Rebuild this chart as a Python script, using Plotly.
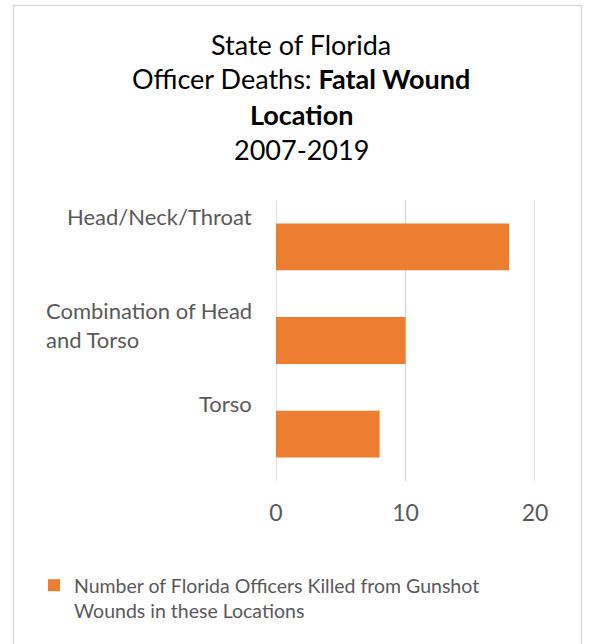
import plotly.graph_objects as go

categories = ["Head/Neck/Throat", "Combination of Head and Torso", "Torso"]
category_labels = ["Head/Neck/Throat", "Combination of Head<br>and Torso", "Torso"]
values = [18, 10, 8]
series_name = "Number of Florida Officers Killed from Gunshot<br>Wounds in these Locations"
x_ticks = [0, 10, 20]
title_lines = ["State of Florida", "Officer Deaths: <b>Fatal Wound</b>", "<b>Location</b>", "2007-2019"]

W, H = 592, 644
L, R, T, B = 276, 535, 200, 481  # plot area in px
FONT = "Lato"
GRAY = "#595959"
ORANGE = "#ED7D31"
GRID = "#d9d9d9"


def px_x(px):
    return (px - L) / (R - L)


def px_y(py):
    return (B - py) / (B - T)


fig = go.Figure()
fig.add_trace(go.Bar(
    y=categories, x=values, orientation="h",
    marker=dict(color=ORANGE, line=dict(width=0)),
    width=0.5, name=series_name, showlegend=True, hoverinfo="skip",
))

annotations = []
title_y = [44, 79, 114, 149]
for line, yy in zip(title_lines, title_y):
    annotations.append(dict(
        text=line, xref="paper", yref="paper", x=px_x(W / 2 + 5), y=px_y(yy),
        xanchor="center", yanchor="middle", showarrow=False,
        font=dict(family=FONT, size=27, color="#000000"),
    ))
for cat, lab in zip(categories, category_labels):
    annotations.append(dict(
        text=lab, xref="paper", yref="y", x=0, y=cat, xshift=-22, yshift=46,
        xanchor="right", yanchor="top", align="left", showarrow=False,
        font=dict(family=FONT, size=22, color=GRAY),
    ))

shapes = [dict(
    type="rect", xref="paper", yref="paper",
    x0=px_x(13.5), x1=px_x(581.5), y0=px_y(660), y1=px_y(5.5),
    line=dict(color=GRID, width=1.5), fillcolor="rgba(0,0,0,0)", layer="below",
)]
for tv in x_ticks:
    shapes.append(dict(
        type="line", xref="x", yref="paper", x0=tv, x1=tv, y0=0, y1=1,
        line=dict(color=GRID, width=1.5), layer="below",
    ))

fig.update_layout(
    width=W, height=H,
    margin=dict(l=L, r=W - R, t=T, b=H - B, pad=0),
    paper_bgcolor="white", plot_bgcolor="white",
    font=dict(family=FONT, size=21, color=GRAY),
    showlegend=True,
    legend=dict(
        x=px_x(34), y=px_y(566), xanchor="left", yanchor="top",
        font=dict(family=FONT, size=19.5, color=GRAY),
        itemwidth=30, bgcolor="rgba(0,0,0,0)", valign="top",
    ),
    annotations=annotations,
    shapes=shapes,
)
fig.update_xaxes(
    range=[0, 20], tickvals=x_ticks, showgrid=False,
    zeroline=False, showline=False, ticks="", ticklabelstandoff=16,
    tickfont=dict(family=FONT, size=23, color=GRAY),
)
fig.update_yaxes(
    categoryorder="array", categoryarray=categories, autorange="reversed",
    showticklabels=False, showgrid=False, zeroline=False, showline=False, ticks="",
)

fig.write_html("out.html", config={"displayModeBar": False},
               post_script="document.body.style.margin='0';")
